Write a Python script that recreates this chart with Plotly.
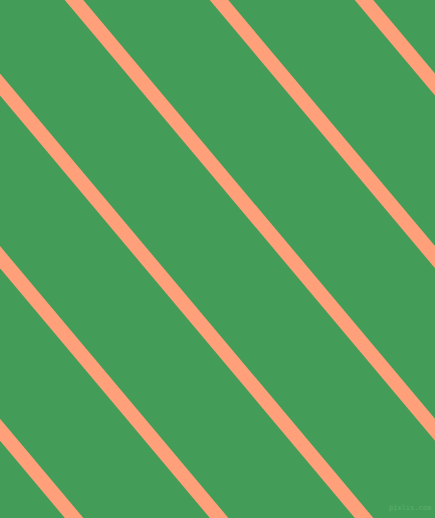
import plotly.graph_objects as go

# Diagonal stripe pattern: x-position of each stripe centre where it crosses the top edge (y=0)
stripe_offsets = [-506, -361, -216, -71, 74, 219, 364]
# horizontal shift per pixel downwards (dx/dy)
stripe_slope = 0.84
y_span = [-30, 550]

bg_color = "#439D59"
stripe_color = "#FFA07A"

fig = go.Figure()
for off in stripe_offsets:
    fig.add_trace(go.Scatter(
        x=[off + stripe_slope * y for y in y_span],
        y=y_span,
        mode="lines",
        line=dict(color=stripe_color, width=14.2),
        hoverinfo="skip",
        showlegend=False,
    ))

fig.add_annotation(
    x=432, y=508, text="pixlis.com", showarrow=False,
    xanchor="right", yanchor="middle", borderpad=0,
    font=dict(family="DejaVu Sans Mono", size=7, color="#5DAF70"),
    xref="x", yref="y",
)

fig.update_layout(
    width=435, height=518,
    margin=dict(l=0, r=0, t=0, b=0),
    paper_bgcolor=bg_color, plot_bgcolor=bg_color,
    xaxis=dict(range=[0, 435], visible=False, fixedrange=True),
    yaxis=dict(range=[518, 0], visible=False, fixedrange=True),
    showlegend=False,
)
fig.write_html(
    "out.html",
    config={"displayModeBar": False},
    post_script="document.body.style.margin='0';document.body.style.overflow='hidden';document.body.style.background='#439D59';",
)
